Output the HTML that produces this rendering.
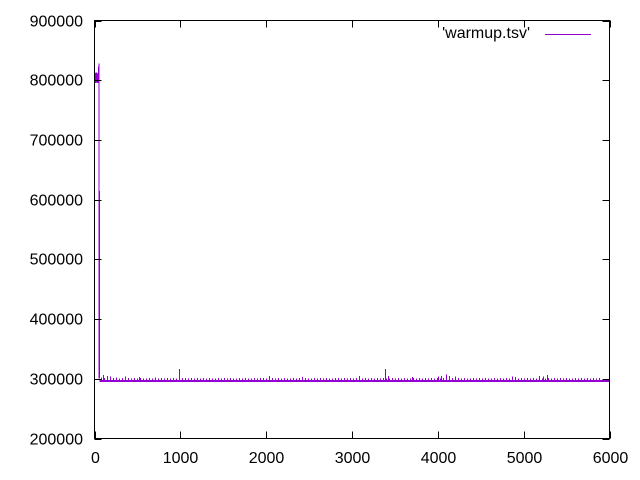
<!DOCTYPE html>
<html><head><meta charset="utf-8"><style>
body{margin:0;background:#fff;}
svg{display:block;font-family:"Liberation Sans",sans-serif;font-size:16px;}
</style></head><body>
<svg id="chart" width="640" height="480">
<g id="marks" shape-rendering="crispEdges"></g>
<rect x="94.5" y="20.5" width="515" height="418" fill="none" stroke="#000" stroke-width="1"/>
<g id="axes" shape-rendering="crispEdges"></g>
<g>
<text x="530" y="38" text-anchor="end">'warmup.tsv'</text>
<line x1="545" y1="34.5" x2="591" y2="34.5" stroke="#9400d3" stroke-width="1" shape-rendering="crispEdges"/>
</g>
</svg>
<script>
const xTicks=[0,1000,2000,3000,4000,5000,6000];
const yTicks=[200000,300000,400000,500000,600000,700000,800000,900000];
const floorValue=296500;
const earlyX=[0,4,8,12,16,20,24,28,32,36,40,44,48,52,56];
const earlyY=[800000,812000,795000,810000,796000,813000,797000,806000,795000,811000,798000,812000,795000,828000,300500];
const baseStart=70;
const baseStep=35;
const baseValues=[
302000,301000,301500,300500,301000,302000,300500,301000,300500,301500,
300500,301000,300500,301500,300500,300500,301000,300500,302000,300500,
301000,300500,301500,300500,301000,300500,300500,301000,301500,300500,
301000,300500,301000,300500,301500,300500,301000,300500,300500,301000,
300500,301500,300500,301000,300500,300500,301000,300500,301500,300500,
300500,301000,300500,301000,301500,300500,300500,301000,300500,301500,
300500,301000,300500,300500,301000,300500,301500,300500,301000,300500,
300500,301000,300500,301500,300500,301000,300500,300500,301000,301500,
300500,301000,300500,301000,300500,301500,300500,300500,301000,300500,
301000,300500,301500,300500,301000,300500,300500,301000,300500,301500,
300500,301000,300500,300500,301000,300500,301500,300500,301000,300500,
301000,300500,301500,300500,301000,300500,300500,301000,300500,301500,
300500,301000,300500,300500,301000,300500,301500,300500,301000,300500,
300500,301000,300500,301500,300500,301000,300500,300500,301000,300500,
301500,300500,301000,300500,301000,300500,301500,300500,300500,301000,
300500,301000,300500,301500,300500,301000,300500,300500,301000,300500,
301500,300500,301000,300500,301000,300500,301500
];
const spikeX=[100,140,180,360,520,985,2030,2420,3080,3380,3420,3700,4000,4040,4100,4130,4200,4860,4900,5180,5220,5270];
const spikeY=[306000,305000,304000,304000,303000,316000,305000,303000,305000,316000,305000,303000,304000,305000,307000,305000,304000,304000,303000,305000,304000,306000];
const NS='http://www.w3.org/2000/svg';
const X0=94.5,X1=609.5,Y0=438.5,Y1=20.5;
function sx(v){return X0+(v-0)/(6000-0)*(X1-X0);}
function sy(v){return Y0-(v-200000)/(900000-200000)*(Y0-Y1);}
const marks=document.getElementById('marks');
const COL='#9400d3';
let d='';
earlyX.forEach((x,i)=>{d+=(i?'L':'M')+sx(x).toFixed(2)+' '+sy(earlyY[i]).toFixed(2);});
const p=document.createElementNS(NS,'path');
p.setAttribute('d',d);p.setAttribute('fill','none');p.setAttribute('stroke',COL);p.setAttribute('stroke-width','1.3');


marks.appendChild(p);
const band=document.createElementNS(NS,'line');
band.setAttribute('x1',sx(earlyX[earlyX.length-1]));band.setAttribute('x2',X1);
band.setAttribute('y1',sy(floorValue));band.setAttribute('y2',sy(floorValue));
band.setAttribute('stroke',COL);band.setAttribute('stroke-width','2');


marks.appendChild(band);
function impulse(x,v,name){
  if(x>6000)return;
  const l=document.createElementNS(NS,'line');
  const px=Math.round(sx(x))+0.5;
  l.setAttribute('x1',px);l.setAttribute('x2',px);
  l.setAttribute('y1',sy(floorValue));l.setAttribute('y2',sy(v));
  l.setAttribute('stroke',COL);l.setAttribute('stroke-width','1');
  
  
  marks.appendChild(l);
}
baseValues.forEach((v,i)=>impulse(baseStart+i*baseStep,v,'sample-bar'));
spikeX.forEach((x,i)=>impulse(x,spikeY[i],'spike-bar'));
const axes=document.getElementById('axes');
function ln(x1,y1,x2,y2){const l=document.createElementNS(NS,'line');l.setAttribute('x1',x1);l.setAttribute('y1',y1);l.setAttribute('x2',x2);l.setAttribute('y2',y2);l.setAttribute('stroke','#000');


axes.appendChild(l);}
function tx(x,y,s,a){const t=document.createElementNS(NS,'text');t.setAttribute('x',x);t.setAttribute('y',y);t.setAttribute('text-anchor',a);t.textContent=s;


axes.appendChild(t);}
xTicks.forEach(v=>{const x=Math.round(sx(v))+0.5;ln(x,Y0,x,Y0-7);ln(x,Y1,x,Y1+7);tx(x,463,String(v),'middle');});
yTicks.forEach(v=>{const y=Math.round(sy(v))+0.5;ln(X0,y,X0+7,y);ln(X1,y,X1-7,y);tx(83,y+5,String(v),'end');});
</script>
</body></html>
